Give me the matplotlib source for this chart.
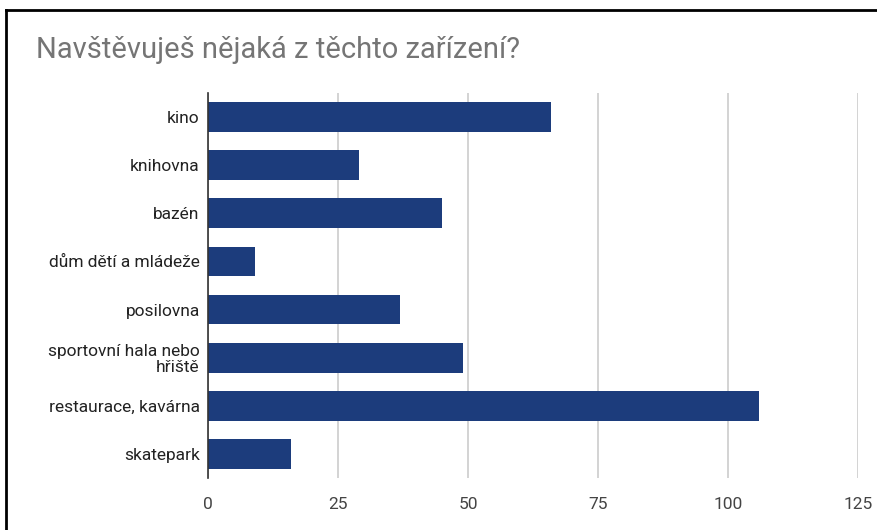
import matplotlib
matplotlib.use("Agg")
import matplotlib.pyplot as plt
from matplotlib.lines import Line2D

categories = ["kino", "knihovna", "bazén", "dům dětí a mládeže", "posilovna",
              "sportovní hala nebo\nhřiště", "restaurace, kavárna", "skatepark"]
values = [66, 29, 45, 9, 37, 49, 106, 16]
xticks = [0, 25, 50, 75, 100, 125]
title = "Navštěvuješ nějaká z těchto zařízení?"

plt.rcParams['font.family'] = ['Roboto', 'DejaVu Sans']

fig = plt.figure(figsize=(8.77, 5.30), dpi=100)
ax = fig.add_axes([208/877, 52/530, 650/877, 385/530])

ypos = list(range(len(categories)))
ax.barh(ypos, values, height=0.62, color="#1c3c7c", zorder=3)
ax.set_xlim(0, 125)
ax.set_ylim(len(categories) - 0.5, -0.5)
ax.set_xticks(xticks)
ax.set_xticklabels([str(t) for t in xticks], fontsize=12.5, color="#444444")
ax.set_yticks(ypos)
ax.set_yticklabels(categories, fontsize=12.5, color="#222222")
for lbl in ax.get_yticklabels():
    lbl.set_multialignment('right')
    lbl.set_linespacing(1.05)
ax.tick_params(axis='both', length=0)
ax.tick_params(axis='x', pad=14)
ax.tick_params(axis='y', pad=6)
ax.grid(axis='x', color="#cccccc", linewidth=1.2, zorder=0)
for s in ['top', 'right', 'bottom']:
    ax.spines[s].set_visible(False)
ax.spines['left'].set_color("#333333")
ax.spines['left'].set_linewidth(1.2)
ax.spines['left'].set_zorder(4)

fig.text(36/877, 1 - 50/530, title, fontsize=21, color="#757575", va='center', ha='left')

fig.add_artist(Line2D([6/877, 1.0], [1 - 10/530, 1 - 10/530], color="black", linewidth=2, transform=fig.transFigure))
fig.add_artist(Line2D([6/877, 6/877], [0, 1 - 10/530], color="black", linewidth=2, transform=fig.transFigure))

fig.savefig("out.png", dpi=100)
